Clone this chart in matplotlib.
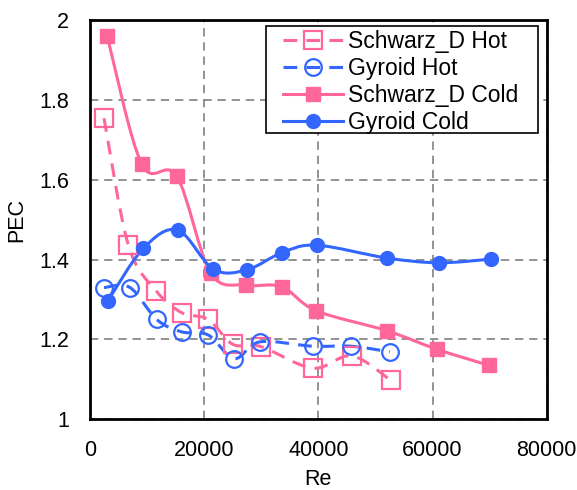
import numpy as np
import matplotlib
matplotlib.use("Agg")
import matplotlib.pyplot as plt
from matplotlib.path import Path
from matplotlib.patches import PathPatch, Rectangle
from matplotlib.lines import Line2D

plt.rcParams['font.family'] = ['Liberation Sans', 'DejaVu Sans']

# values
re_sd_hot = [2450, 6700, 11560, 16060, 20720, 24990, 29950, 39000, 45830, 52660]
pec_sd_hot = [1.754, 1.437, 1.322, 1.267, 1.250, 1.188, 1.182, 1.128, 1.159, 1.098]

re_gy_hot = [2450, 7000, 11680, 16060, 20720, 25270, 29770, 39000, 45710, 52540]
pec_gy_hot = [1.330, 1.330, 1.250, 1.219, 1.211, 1.152, 1.194, 1.183, 1.183, 1.169]

re_sd_cold = [3000, 9050, 15180, 21130, 27320, 33570, 39580, 51960, 60830, 69930]
pec_sd_cold = [1.960, 1.639, 1.609, 1.366, 1.336, 1.332, 1.272, 1.222, 1.175, 1.135]

re_gy_cold = [3100, 9340, 15350, 21600, 27440, 33570, 39700, 51960, 61060, 70170]
pec_gy_cold = [1.296, 1.428, 1.474, 1.376, 1.374, 1.417, 1.436, 1.404, 1.392, 1.401]

labels = ["Schwarz_D Hot", "Gyroid Hot", "Schwarz_D Cold", "Gyroid Cold"]

pink = "#FF6699"
blue = "#3366FF"


def smooth_path(x, y):
    # excel-like smoothed line: cubic bezier segments through every point
    pts = np.column_stack([x, y]).astype(float)
    n = len(pts)
    verts = [pts[0]]
    codes = [Path.MOVETO]
    for i in range(n - 1):
        p0 = pts[max(i - 1, 0)]
        p1 = pts[i]
        p2 = pts[i + 1]
        p3 = pts[min(i + 2, n - 1)]
        c1 = p1 + (p2 - p0) / 6
        c2 = p2 - (p3 - p1) / 6
        verts += [c1, c2, p2]
        codes += [Path.CURVE4] * 3
    return Path(verts, codes)


fig = plt.figure(figsize=(5.77, 4.90), dpi=100)
ax = fig.add_axes([0.156, 0.1443, 0.7915, 0.8149])

series = [
    (re_sd_hot, pec_sd_hot, pink, (0, (4.5, 3)), 's', 'none', 12.5, 1.6),
    (re_gy_hot, pec_gy_hot, blue, (0, (4.5, 3)), 'o', 'none', 12, 1.6),
    (re_sd_cold, pec_sd_cold, pink, '-', 's', pink, 9.5, 1),
    (re_gy_cold, pec_gy_cold, blue, '-', 'o', blue, 10, 1),
]

handles = []
for (x, y, c, ls, m, fc, ms, mew), lab in zip(series, labels):
    ax.add_patch(PathPatch(smooth_path(x, y), facecolor='none', edgecolor=c,
                           lw=2.2, linestyle=ls, zorder=3))
    ax.plot(x, y, ls='none', marker=m, ms=ms, mfc=fc, mec=c, mew=mew, zorder=4)
    handles.append(Line2D([], [], color=c, lw=2.2, linestyle=ls, marker=m,
                          ms=ms, mfc=fc, mec=c, mew=mew))

ax.set_xlim(0, 80000)
ax.set_ylim(1, 2)
ax.set_xticks([0, 20000, 40000, 60000, 80000])
ax.set_yticks([1, 1.2, 1.4, 1.6, 1.8, 2])
ax.set_yticklabels(["1", "1.2", "1.4", "1.6", "1.8", "2"])
ax.tick_params(length=0, labelsize=15.5, pad=15)
ax.grid(True, color="#808080", linestyle=(0, (5, 3.5)), lw=1.2)
for s in ax.spines.values():
    s.set_linewidth(2)
    s.set_zorder(5)

ax.set_xlabel("Re", fontsize=15.5)
ax.set_ylabel("PEC", fontsize=15.5)
ax.xaxis.set_label_coords(0.5, -0.125)
ax.yaxis.set_label_coords(-0.138, 0.5)

# legend box drawn separately (wide horizontal padding like the original)
ax.add_patch(Rectangle((0.385, 0.716), 0.596, 0.269, transform=ax.transAxes,
                       facecolor='white', edgecolor='black', lw=1.2, zorder=6))
leg = ax.legend(handles, labels, loc='upper left', bbox_to_anchor=(0.4226, 0.975),
                borderaxespad=0, borderpad=0, fontsize=16.5, handlelength=2.6,
                handletextpad=0.25, labelspacing=0.17, frameon=False)
leg.set_zorder(7)

fig.savefig("out.png", dpi=100)
